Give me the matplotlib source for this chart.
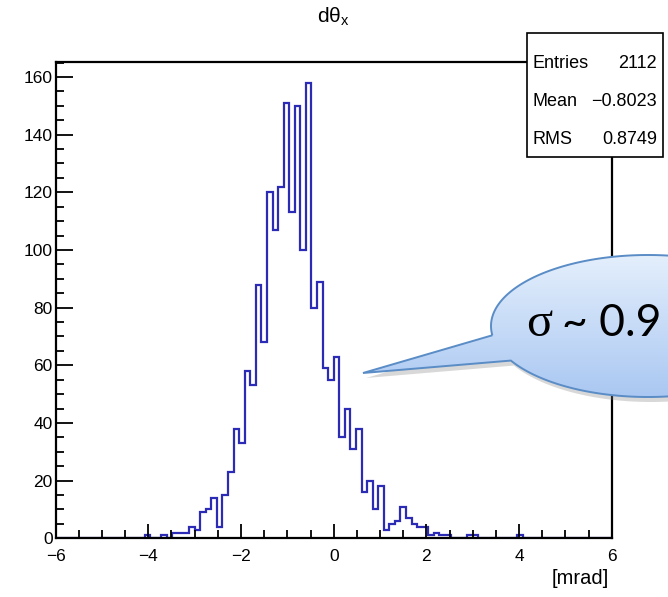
import numpy as np
import matplotlib
matplotlib.use("Agg")
import matplotlib.pyplot as plt
from matplotlib.path import Path
from matplotlib.patches import PathPatch, Rectangle
from matplotlib.ticker import MultipleLocator

plt.rcParams['font.family'] = ['Liberation Sans', 'DejaVu Sans']
plt.rcParams['mathtext.fontset'] = 'custom'
plt.rcParams['mathtext.rm'] = 'Liberation Sans'
plt.rcParams['mathtext.it'] = 'Liberation Sans'

# histogram: 100 bins from -6 to 6 mrad
x_lo, x_hi, n_bins = -6.0, 6.0, 100
counts = [
    0, 0, 0, 0, 0, 0, 0, 0, 0, 0,
    0, 0, 0, 0, 0, 0, 1, 0, 0, 1,
    0, 2, 2, 2, 4, 3, 9, 10, 14, 4,
    15, 23, 38, 33, 58, 53, 88, 68, 120, 107,
    122, 151, 113, 150, 100, 158, 80, 89, 59, 55,
    63, 35, 45, 31, 38, 16, 20, 10, 18, 3,
    5, 6, 11, 7, 5, 4, 4, 1, 2, 1,
    1, 0, 0, 0, 1, 1, 0, 0, 0, 0,
    0, 0, 0, 1, 0, 0, 0, 0, 0, 0,
    0, 0, 0, 0, 0, 0, 0, 0, 0, 0,
]
x_ticks = [-6, -4, -2, 0, 2, 4, 6]
x_tick_labels = ["\u22126", "\u22124", "\u22122", "0", "2", "4", "6"]
stat_names = ["Entries", "Mean", "RMS"]
stat_values = ["2112", "\u22120.8023", "0.8749"]
title = r"d$\theta_{x}$"
x_label = "[mrad]"
note_symbol = "\u03c3"
note_value = "~ 0.9"

W, H = 668, 597
fig = plt.figure(figsize=(W / 100, H / 100), dpi=100)
ax = fig.add_axes([55.6 / W, 1 - 538.3 / H, (611.8 - 55.6) / W, (538.3 - 61.7) / H])

edges = np.linspace(x_lo, x_hi, n_bins + 1)
ax.stairs(counts, edges, color='#2b2bb5', linewidth=1.6, baseline=0)

ax.set_xlim(x_lo, x_hi)
ax.set_ylim(0, 165.3)
ax.set_xticks(x_ticks)
ax.set_xticklabels(x_tick_labels)
ax.xaxis.set_minor_locator(MultipleLocator(0.5))
ax.yaxis.set_major_locator(MultipleLocator(20))
ax.yaxis.set_minor_locator(MultipleLocator(5))
ax.tick_params(which='both', direction='in', top=False, right=False,
               labelsize=12.5, width=1.3)
ax.tick_params(axis='y', which='major', length=12, pad=2)
ax.tick_params(axis='y', which='minor', length=6)
ax.tick_params(axis='x', which='major', length=10, pad=8)
ax.tick_params(axis='x', which='minor', length=5.5)
for sp in ax.spines.values():
    sp.set_linewidth(1.6)

fig.text(333 / W, 1 - 17 / H, title, ha='center', va='center', fontsize=15)
fig.text(609 / W, 1 - 579 / H, x_label, ha='right', va='center', fontsize=14.5)

# overlay in pixel coordinates for stats box and callout
ov = fig.add_axes([0, 0, 1, 1], zorder=5)
ov.axis('off')

ov.add_patch(Rectangle((527, 33), 136, 124, facecolor='white',
                       edgecolor='black', linewidth=1.2))
for i, (name, val) in enumerate(zip(stat_names, stat_values)):
    yy = 63 + i * 38.5
    ov.text(532, yy, name, ha='left', va='center', fontsize=13)
    ov.text(657, yy, val, ha='right', va='center', fontsize=13)

# speech bubble
cx, cy, a, b = 648, 326, 157, 71
p1 = (497, 335)
p2 = (525, 357)
tip = (363, 373)
t1 = np.arctan2((p1[1] - cy) / b, (p1[0] - cx) / a)
t2 = np.arctan2((p2[1] - cy) / b, (p2[0] - cx) / a)
ts = np.linspace(t1, t2 + 2 * np.pi, 300)
pts = [(cx + a * np.cos(t), cy + b * np.sin(t)) for t in ts]
pts.append(tip)
pts.append(pts[0])
codes = [Path.MOVETO] + [Path.LINETO] * (len(pts) - 2) + [Path.CLOSEPOLY]
bubble = Path(pts, codes)

shadow_pts = [(px + 3, py + 5) for px, py in pts]
ov.add_patch(PathPatch(Path(shadow_pts, codes), facecolor='#808080',
                       edgecolor='none', alpha=0.3))
fill = PathPatch(bubble, facecolor='none', edgecolor='none')
ov.add_patch(fill)
grad = np.linspace(0, 1, 256).reshape(-1, 1)
img = ov.imshow(grad, extent=(360, 810, cy + b + 2, cy - b), origin='upper',
                cmap=matplotlib.colors.LinearSegmentedColormap.from_list(
                    'bub', ['#e4effc', '#a9c7f2']),
                aspect='auto', zorder=6)
img.set_clip_path(fill)
ov.add_patch(PathPatch(bubble, facecolor='none', edgecolor='#5a8cc6',
                       linewidth=1.4, zorder=7))
ov.set_xlim(0, W)
ov.set_ylim(H, 0)

ov.text(526, 336, note_symbol, ha='left', va='baseline', fontsize=35,
        family='Liberation Serif', zorder=8)
ov.text(562, 336, note_value, ha='left', va='baseline', fontsize=32,
        family='Lato', zorder=8)

fig.savefig("out.png", dpi=100)
